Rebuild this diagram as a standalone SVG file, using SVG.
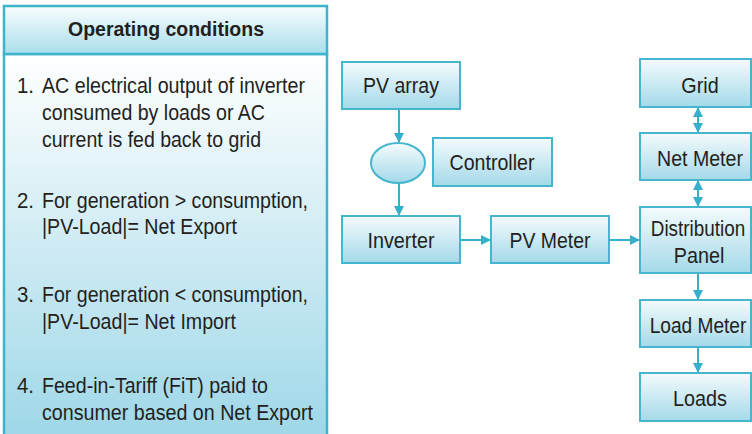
<svg xmlns="http://www.w3.org/2000/svg" width="752" height="434" viewBox="0 0 752 434">
<defs>
<linearGradient id="gBox" x1="0" y1="0" x2="0" y2="1">
<stop offset="0" stop-color="#f4fbfd"/>
<stop offset="1" stop-color="#a4d9e9"/>
</linearGradient>
<linearGradient id="gHead" x1="0" y1="0" x2="0" y2="1">
<stop offset="0" stop-color="#f8fdfe"/>
<stop offset="1" stop-color="#a9deec"/>
</linearGradient>
<linearGradient id="gBody" x1="0" y1="0" x2="0" y2="1">
<stop offset="0" stop-color="#ffffff"/>
<stop offset="1" stop-color="#9ed7e8"/>
</linearGradient>
<marker id="ah" viewBox="0 0 10 10" refX="9" refY="5" markerWidth="5" markerHeight="5" orient="auto-start-reverse" markerUnits="strokeWidth">
<path d="M0,0 L10,5 L0,10 z" fill="#36afca"/>
</marker>
</defs>
<style>
.box{fill:url(#gBox);stroke:#45b6ce;stroke-width:2}
.t{font-family:"Liberation Sans",Arial,sans-serif;font-size:22.5px;fill:#231f20}
.c{text-anchor:middle}
.h{font-family:"Liberation Sans",Arial,sans-serif;font-size:20px;font-weight:bold;fill:#231f20;text-anchor:middle}
.ln{stroke:#36afca;stroke-width:2;fill:none}
</style>
<g id="conditions">
<rect x="4" y="54" width="323" height="384" fill="url(#gBody)" stroke="#3cb4cc" stroke-width="2.5"/>
<rect x="4" y="6" width="323" height="48" fill="url(#gHead)" stroke="#3cb4cc" stroke-width="2.5"/>
<text class="h" x="166" y="36" textLength="196" lengthAdjust="spacingAndGlyphs">Operating conditions</text>
<text class="t" x="17" y="93" textLength="17" lengthAdjust="spacingAndGlyphs">1.</text>
<text class="t" x="42" y="93" textLength="263" lengthAdjust="spacingAndGlyphs">AC electrical output of inverter</text>
<text class="t" x="42" y="120" textLength="223" lengthAdjust="spacingAndGlyphs">consumed by loads or AC</text>
<text class="t" x="42" y="147" textLength="219" lengthAdjust="spacingAndGlyphs">current is fed back to grid</text>
<text class="t" x="17" y="208" textLength="17" lengthAdjust="spacingAndGlyphs">2.</text>
<text class="t" x="42" y="208" textLength="266" lengthAdjust="spacingAndGlyphs">For generation &gt; consumption,</text>
<text class="t" x="42" y="234" textLength="195" lengthAdjust="spacingAndGlyphs">|PV-Load|= Net Export</text>
<text class="t" x="17" y="302" textLength="17" lengthAdjust="spacingAndGlyphs">3.</text>
<text class="t" x="42" y="302" textLength="266" lengthAdjust="spacingAndGlyphs">For generation &lt; consumption,</text>
<text class="t" x="42" y="329" textLength="194" lengthAdjust="spacingAndGlyphs">|PV-Load|= Net Import</text>
<text class="t" x="17" y="393" textLength="17" lengthAdjust="spacingAndGlyphs">4.</text>
<text class="t" x="42" y="393" textLength="226" lengthAdjust="spacingAndGlyphs">Feed-in-Tariff (FiT) paid to</text>
<text class="t" x="42" y="420" textLength="271" lengthAdjust="spacingAndGlyphs">consumer based on Net Export</text>
</g>
<g id="connectors">
<line class="ln" x1="399" y1="109" x2="399" y2="142" marker-end="url(#ah)"/>
<line class="ln" x1="399" y1="183" x2="399" y2="215" marker-end="url(#ah)"/>
<line class="ln" x1="460" y1="240" x2="490" y2="240" marker-end="url(#ah)"/>
<line class="ln" x1="609" y1="240" x2="639" y2="240" marker-end="url(#ah)"/>
<line class="ln" x1="698" y1="108" x2="698" y2="132" marker-start="url(#ah)" marker-end="url(#ah)"/>
<line class="ln" x1="698" y1="181" x2="698" y2="206" marker-start="url(#ah)" marker-end="url(#ah)"/>
<line class="ln" x1="698" y1="273" x2="698" y2="299" marker-end="url(#ah)"/>
<line class="ln" x1="698" y1="347" x2="698" y2="372" marker-end="url(#ah)"/>
</g>
<g id="pv-array">
<rect class="box" x="342" y="62" width="118" height="47"/>
<text class="t c" x="401" y="93" textLength="76" lengthAdjust="spacingAndGlyphs">PV array</text>
</g>
<g id="switch">
<ellipse class="box" cx="398" cy="163" rx="27" ry="20"/>
</g>
<g id="controller">
<rect class="box" x="433" y="138" width="119" height="48"/>
<text class="t c" x="492" y="170" textLength="85" lengthAdjust="spacingAndGlyphs">Controller</text>
</g>
<g id="inverter">
<rect class="box" x="342" y="216" width="118" height="47"/>
<text class="t c" x="401" y="248" textLength="67" lengthAdjust="spacingAndGlyphs">Inverter</text>
</g>
<g id="pv-meter">
<rect class="box" x="491" y="216" width="118" height="47"/>
<text class="t c" x="550" y="248" textLength="81" lengthAdjust="spacingAndGlyphs">PV Meter</text>
</g>
<g id="grid">
<rect class="box" x="640" y="59" width="111" height="48"/>
<text class="t c" transform="translate(700,93) scale(0.88,1)">Grid</text>
</g>
<g id="net-meter">
<rect class="box" x="640" y="133" width="111" height="47"/>
<text class="t c" transform="translate(700,166) scale(0.87,1)">Net Meter</text>
</g>
<g id="distribution-panel">
<rect class="box" x="640" y="207" width="111" height="66"/>
<text class="t c" transform="translate(698,236) scale(0.84,1)">Distribution</text>
<text class="t c" transform="translate(699,263) scale(0.88,1)">Panel</text>
</g>
<g id="load-meter">
<rect class="box" x="640" y="300" width="111" height="47"/>
<text class="t c" transform="translate(698,333) scale(0.85,1)">Load Meter</text>
</g>
<g id="loads">
<rect class="box" x="640" y="373" width="111" height="48"/>
<text class="t c" transform="translate(700,406) scale(0.88,1)">Loads</text>
</g>
</svg>
